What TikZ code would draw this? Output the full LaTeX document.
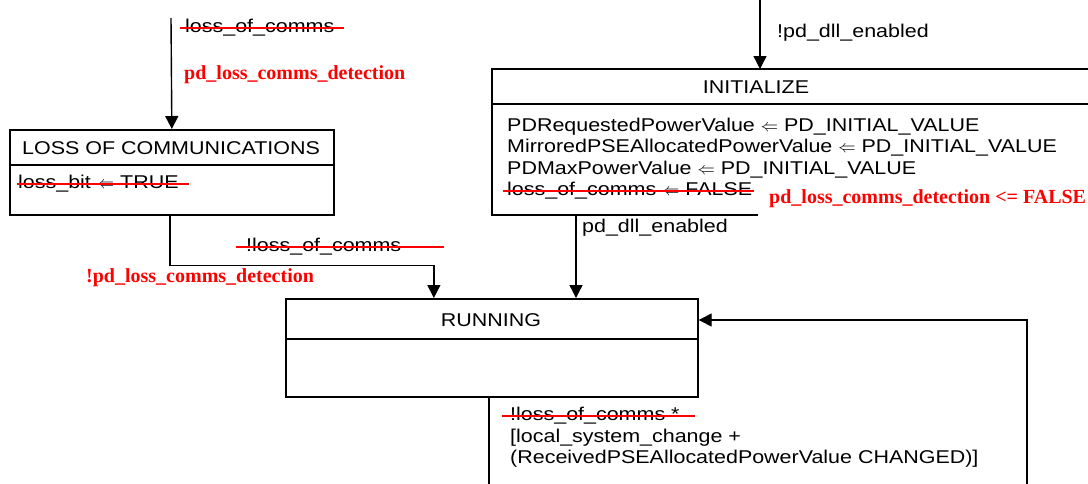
\documentclass[tikz,border=0pt]{standalone}
\usepackage{fontspec}
\setmainfont{Liberation Sans}[FakeStretch=1.16]
\newfontfamily\redfont{Liberation Serif}
\usetikzlibrary{positioning,arrows.meta}

\begin{document}
\begin{tikzpicture}[x=1pt, y=-1pt,
  every node/.style={inner sep=0pt, font=\fontsize{18.5}{21}\selectfont},
  statebox/.style={draw, line width=1.7pt, anchor=north west},
  divider/.style={line width=1.7pt},
  trans/.style={line width=1.4pt, -{Triangle[length=13pt, width=13pt]}},
  strike/.style={red, line width=1.2pt},
  redlbl/.style={text=red, font=\fontsize{20}{22}\redfont\bfseries}]
  \useasboundingbox (0,0) rectangle (1088,483);
  \clip (0,0) rectangle (1088,483);

  % states
  \node[statebox, minimum width=324pt, minimum height=85pt] (loc) at (9,129) {};
  \draw[divider] (loc.north west) ++(0,36) -- ++(324,0);
  \node (loctitle) at (171,148) {LOSS OF COMMUNICATIONS};
  \node[anchor=west] (locbody) at (18,184) {loss\_bit $\Leftarrow$ TRUE};

  \node[statebox, minimum width=412pt, minimum height=98pt] (run) at (285,298) {};
  \draw[divider] (run.north west) ++(0,41) -- ++(412,0);
  \node (runtitle) at (491,320) {RUNNING};

  % initialize runs off the page
  \coordinate (init) at (492,69);
  \draw[divider] (1100,69) -- (init) -- ++(0,146) -- ++(266,0);
  \draw[divider] (init) ++(0,35) -- ++(610,0);
  \node (inittitle) at (756,87) {INITIALIZE};
  \foreach \n/\y/\txt in {a/126.5/PDRequestedPowerValue $\Leftarrow$ PD\_INITIAL\_VALUE,
      b/148/MirroredPSEAllocatedPowerValue $\Leftarrow$ PD\_INITIAL\_VALUE,
      c/169.5/PDMaxPowerValue $\Leftarrow$ PD\_INITIAL\_VALUE,
      d/191/loss\_of\_comms $\Leftarrow$ FALSE}
    \node[anchor=west] (init\n) at (507,\y) {\txt};
  \node[redlbl, anchor=west] (initred) at (769,199) {pd\_loss\_comms\_detection <= FALSE};

  % transitions
  \coordinate (locin) at (171,18);
  \draw[trans] (locin) -- (loc.north);
  \node[anchor=west] (loclbl) at (185,28) {loss\_of\_comms};
  \node[redlbl, anchor=west] (locred) at (184,75) {pd\_loss\_comms\_detection};

  \coordinate (initin) at (760,0);
  \draw[trans] (initin) -- (initin |- init);
  \node[anchor=west] (initlbl) at (777,33) {!pd\_dll\_enabled};

  \coordinate (initout) at (576,215);
  \draw[trans] (initout) -- (initout |- run.north);
  \node[anchor=west] (runlbl) at (582,228) {pd\_dll\_enabled};

  \draw[trans] ([xshift=-2pt]loc.south) -- ++(0,50) -| ([xshift=-58pt]run.north);
  \node[anchor=west] (loclbl2) at (246,247) {!loss\_of\_comms};
  \node[redlbl, anchor=west] (locred2) at (86,278) {!pd\_loss\_comms\_detection};

  % self loop on running
  \coordinate (loopturn) at (1027,320);
  \draw[trans] ([xshift=-3pt]run.south) -- ++(0,120) -| (loopturn) -- (run.east |- runtitle);
  \node[anchor=west] (loopa) at (510,416) {!loss\_of\_comms *};
  \node[anchor=west] (loopb) at (510,438) {[local\_system\_change +};
  \node[anchor=west] (loopc) at (510,459) {(ReceivedPSEAllocatedPowerValue CHANGED)]};

  % struck out
  \draw[strike] ([xshift=-5pt]loclbl.west) -- ([xshift=10pt]loclbl.east);
  \draw[strike] ([xshift=-1pt]locbody.west) -- ([xshift=10pt]locbody.east);
  \draw[strike] ([xshift=-10pt]loclbl2.west) -- ([xshift=43pt]loclbl2.east);
  \draw[strike] ([xshift=-4pt]initd.west) -- ([xshift=2pt]initd.east);
  \draw[strike] ([xshift=-8pt]loopa.west) -- ([xshift=15pt]loopa.east);
\end{tikzpicture}
\end{document}
